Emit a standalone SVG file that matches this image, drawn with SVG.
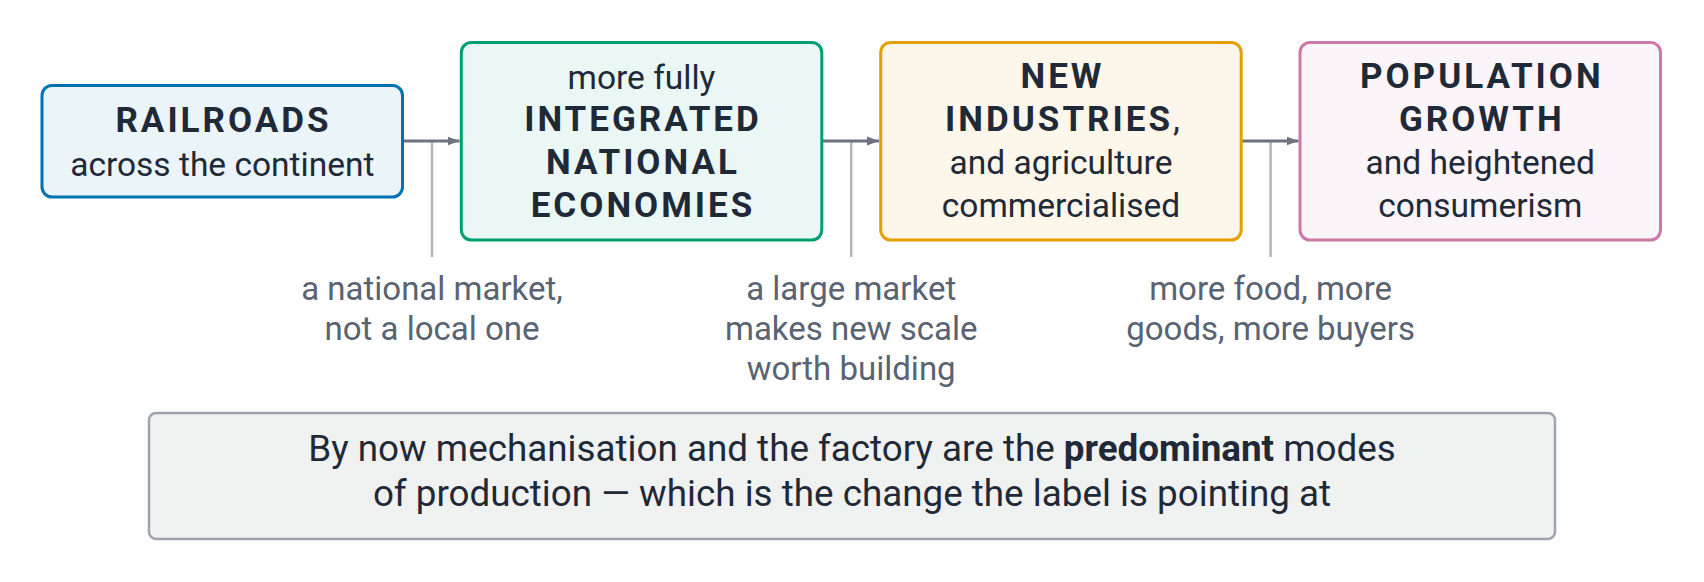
<svg xmlns="http://www.w3.org/2000/svg" width="1704" height="582" viewBox="0 0 1704 582">
  <style>
    text { font-family: Roboto, "Liberation Sans", sans-serif; text-anchor: middle; }
    .t { font-size: 35px; font-weight: 700; fill: #1f2937; letter-spacing: 3px; }
    .b { font-size: 33.5px; font-weight: 400; fill: #1f2937; }
    .c { letter-spacing: 0; font-weight: 400; }
    .lbl { font-size: 33px; fill: #596372; }
    .note { font-size: 36.8px; fill: #1f2937; }
    .box { stroke-width: 3; }
    .arrow { stroke: #6b7280; stroke-width: 3; fill: none; }
    .tick { stroke: #b3b7bd; stroke-width: 2.5; fill: none; }
  </style>
  <defs>
    <marker id="ah" markerWidth="12" markerHeight="10" refX="12" refY="5" orient="auto" markerUnits="userSpaceOnUse">
      <path d="M0,0.5 L12,5 L0,9.5 Z" fill="#6b7280"/>
    </marker>
  </defs>
  <rect width="1704" height="582" fill="#ffffff"/>

  <g id="connectors">
    <line class="tick" x1="432" y1="141" x2="432" y2="257"/>
    <line class="tick" x1="851.2" y1="141" x2="851.2" y2="257"/>
    <line class="tick" x1="1270.6" y1="141" x2="1270.6" y2="257"/>
    <line class="arrow" x1="403" y1="141" x2="459.5" y2="141" marker-end="url(#ah)"/>
    <line class="arrow" x1="822" y1="141" x2="879" y2="141" marker-end="url(#ah)"/>
    <line class="arrow" x1="1241.5" y1="141" x2="1298.5" y2="141" marker-end="url(#ah)"/>
  </g>

  <g id="railroads">
    <rect class="box" x="42" y="85.5" width="360.5" height="111.5" rx="10" fill="#ebf4f9" stroke="#0072b2"/>
    <text class="t" x="223.5" y="132.3">RAILROADS</text>
    <text class="b" x="222.3" y="175.7">across the continent</text>
  </g>

  <g id="integrated">
    <rect class="box" x="461.3" y="42.5" width="360.5" height="197.5" rx="10" fill="#ebf7f4" stroke="#009e73"/>
    <text class="b" x="641.5" y="89.3">more fully</text>
    <text class="t" x="643" y="131">INTEGRATED</text>
    <text class="t" x="643" y="174.3">NATIONAL</text>
    <text class="t" x="643" y="217.3">ECONOMIES</text>
  </g>

  <g id="industries">
    <rect class="box" x="880.7" y="42.5" width="360.5" height="197.5" rx="10" fill="#fdf7eb" stroke="#e69f00"/>
    <text class="t" x="1062.5" y="88.3">NEW</text>
    <text class="t" x="1062.5" y="131">INDUSTRIES<tspan class="c">,</tspan></text>
    <text class="b" x="1061" y="174.3">and agriculture</text>
    <text class="b" x="1061" y="217.3">commercialised</text>
  </g>

  <g id="population">
    <rect class="box" x="1300" y="42.5" width="360.5" height="197.5" rx="10" fill="#fbf4f8" stroke="#cc79a7"/>
    <text class="t" x="1481.8" y="88.3">POPULATION</text>
    <text class="t" x="1481.8" y="131">GROWTH</text>
    <text class="b" x="1480.3" y="174.3">and heightened</text>
    <text class="b" x="1480.3" y="217.3">consumerism</text>
  </g>

  <g id="label-1">
    <text class="lbl" x="432" y="299.5">a national market,</text>
    <text class="lbl" x="432" y="339.5">not a local one</text>
  </g>
  <g id="label-2">
    <text class="lbl" x="851.2" y="299.5">a large market</text>
    <text class="lbl" x="851.2" y="339.5">makes new scale</text>
    <text class="lbl" x="851.2" y="379.5">worth building</text>
  </g>
  <g id="label-3">
    <text class="lbl" x="1270.6" y="299.5">more food, more</text>
    <text class="lbl" x="1270.6" y="339.5">goods, more buyers</text>
  </g>

  <g id="note">
    <rect x="149" y="413" width="1406" height="126" rx="7" fill="#f0f2f1" stroke="#9ca3af" stroke-width="2.5"/>
    <text class="note" x="852" y="461">By now mechanisation and the factory are the <tspan font-weight="700">predominant</tspan> modes</text>
    <text class="note" x="852" y="506">of production — which is the change the label is pointing at</text>
  </g>
</svg>
